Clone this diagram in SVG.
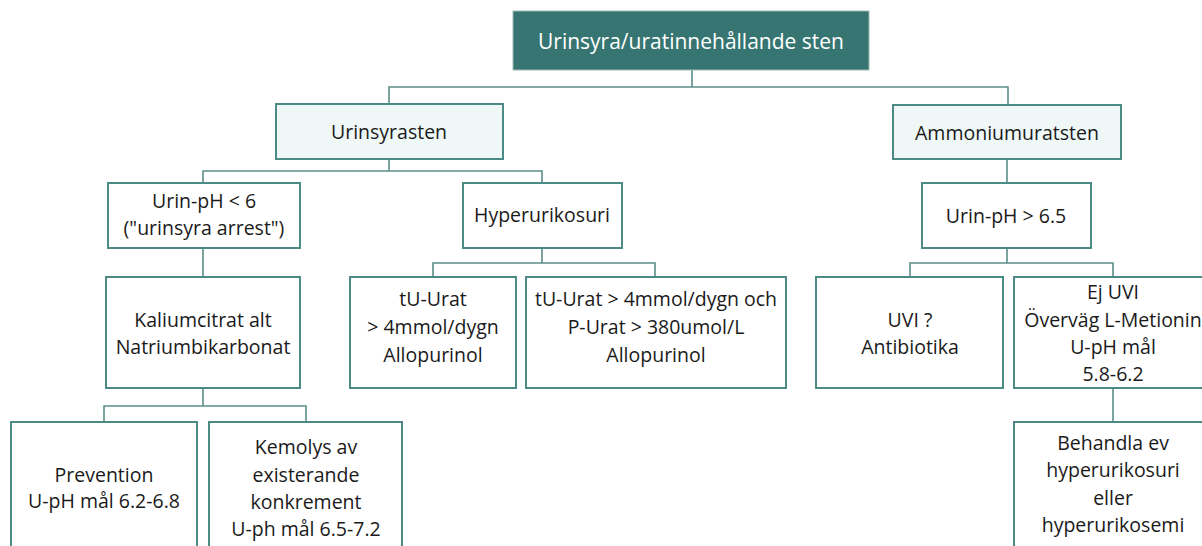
<svg xmlns="http://www.w3.org/2000/svg" width="1202" height="546" viewBox="0 0 1202 546">
  <style>
    .box { fill: #ffffff; stroke: #4b8a85; stroke-width: 2; }
    .sub { fill: #eff8f7; stroke: #4b8a85; stroke-width: 2; }
    .head { fill: #367571; stroke: #9fb9b6; stroke-width: 1; }
    .t { font-family: "Open Sans", "Liberation Sans", sans-serif; font-size: 19.5px; fill: #1a1a1a; text-anchor: middle; }
    .th { font-family: "Open Sans", "Liberation Sans", sans-serif; font-size: 21px; fill: #ffffff; text-anchor: middle; }
    .link { fill: none; stroke: #5b8e8a; stroke-width: 1.6; }
  </style>

  <g id="connectors">
    <path class="link" d="M692 70 V87 M389 104 V87 H1008 V105"/>
    <path class="link" d="M389 159 V171 M203 183 V171 H542 V183"/>
    <path class="link" d="M1007 159 V183"/>
    <path class="link" d="M203 248 V277"/>
    <path class="link" d="M542 248 V263 M433 277 V263 H655 V277"/>
    <path class="link" d="M1007 248 V263 M910 277 V263 H1113 V277"/>
    <path class="link" d="M203 388 V406 M104 422 V406 H306 V422"/>
    <path class="link" d="M1113 388 V422"/>
  </g>

  <g id="root">
    <rect class="head" x="513" y="11" width="356" height="59"/>
    <text class="th" x="691" y="49">Urinsyra/uratinnehållande sten</text>
  </g>

  <g id="urinsyrasten">
    <rect class="sub" x="276" y="104" width="227" height="55"/>
    <text class="t" x="389" y="139">Urinsyrasten</text>
  </g>

  <g id="ammoniumuratsten">
    <rect class="sub" x="893" y="105" width="228" height="54"/>
    <text class="t" x="1007" y="140">Ammoniumuratsten</text>
  </g>

  <g id="urin-ph-low">
    <rect class="box" x="108" y="183" width="192" height="65"/>
    <text class="t" x="204" y="208">Urin-pH &lt; 6</text>
    <text class="t" x="204" y="235">("urinsyra arrest")</text>
  </g>

  <g id="hyperurikosuri">
    <rect class="box" x="463" y="183" width="159" height="65"/>
    <text class="t" x="542" y="222">Hyperurikosuri</text>
  </g>

  <g id="urin-ph-high">
    <rect class="box" x="922" y="183" width="169" height="65"/>
    <text class="t" x="1006" y="223">Urin-pH &gt; 6.5</text>
  </g>

  <g id="kaliumcitrat">
    <rect class="box" x="106" y="277" width="194" height="111"/>
    <text class="t" x="203" y="327">Kaliumcitrat alt</text>
    <text class="t" x="203" y="354">Natriumbikarbonat</text>
  </g>

  <g id="tu-urat">
    <rect class="box" x="350" y="277" width="166" height="111"/>
    <text class="t" x="433" y="306">tU-Urat</text>
    <text class="t" x="433" y="334">&gt; 4mmol/dygn</text>
    <text class="t" x="433" y="362">Allopurinol</text>
  </g>

  <g id="tu-p-urat">
    <rect class="box" x="526" y="277" width="260" height="111"/>
    <text class="t" x="656" y="306">tU-Urat &gt; 4mmol/dygn och</text>
    <text class="t" x="656" y="334">P-Urat &gt; 380umol/L</text>
    <text class="t" x="656" y="362">Allopurinol</text>
  </g>

  <g id="uvi">
    <rect class="box" x="816" y="277" width="187" height="111"/>
    <text class="t" x="910" y="327">UVI ?</text>
    <text class="t" x="910" y="354">Antibiotika</text>
  </g>

  <g id="ej-uvi">
    <rect class="box" x="1014" y="277" width="198" height="111"/>
    <text class="t" x="1113" y="299">Ej UVI</text>
    <text class="t" x="1113" y="327">Överväg L-Metionin</text>
    <text class="t" x="1113" y="354">U-pH mål</text>
    <text class="t" x="1113" y="381">5.8-6.2</text>
  </g>

  <g id="prevention">
    <rect class="box" x="11" y="422" width="186" height="140"/>
    <text class="t" x="104" y="482">Prevention</text>
    <text class="t" x="104" y="508">U-pH mål 6.2-6.8</text>
  </g>

  <g id="kemolys">
    <rect class="box" x="209" y="422" width="193" height="140"/>
    <text class="t" x="306" y="454">Kemolys av</text>
    <text class="t" x="306" y="482">existerande</text>
    <text class="t" x="306" y="509">konkrement</text>
    <text class="t" x="306" y="536">U-ph mål 6.5-7.2</text>
  </g>

  <g id="behandla">
    <rect class="box" x="1014" y="422" width="198" height="140"/>
    <text class="t" x="1113" y="450">Behandla ev</text>
    <text class="t" x="1113" y="477">hyperurikosuri</text>
    <text class="t" x="1113" y="505">eller</text>
    <text class="t" x="1113" y="532">hyperurikosemi</text>
  </g>
</svg>
